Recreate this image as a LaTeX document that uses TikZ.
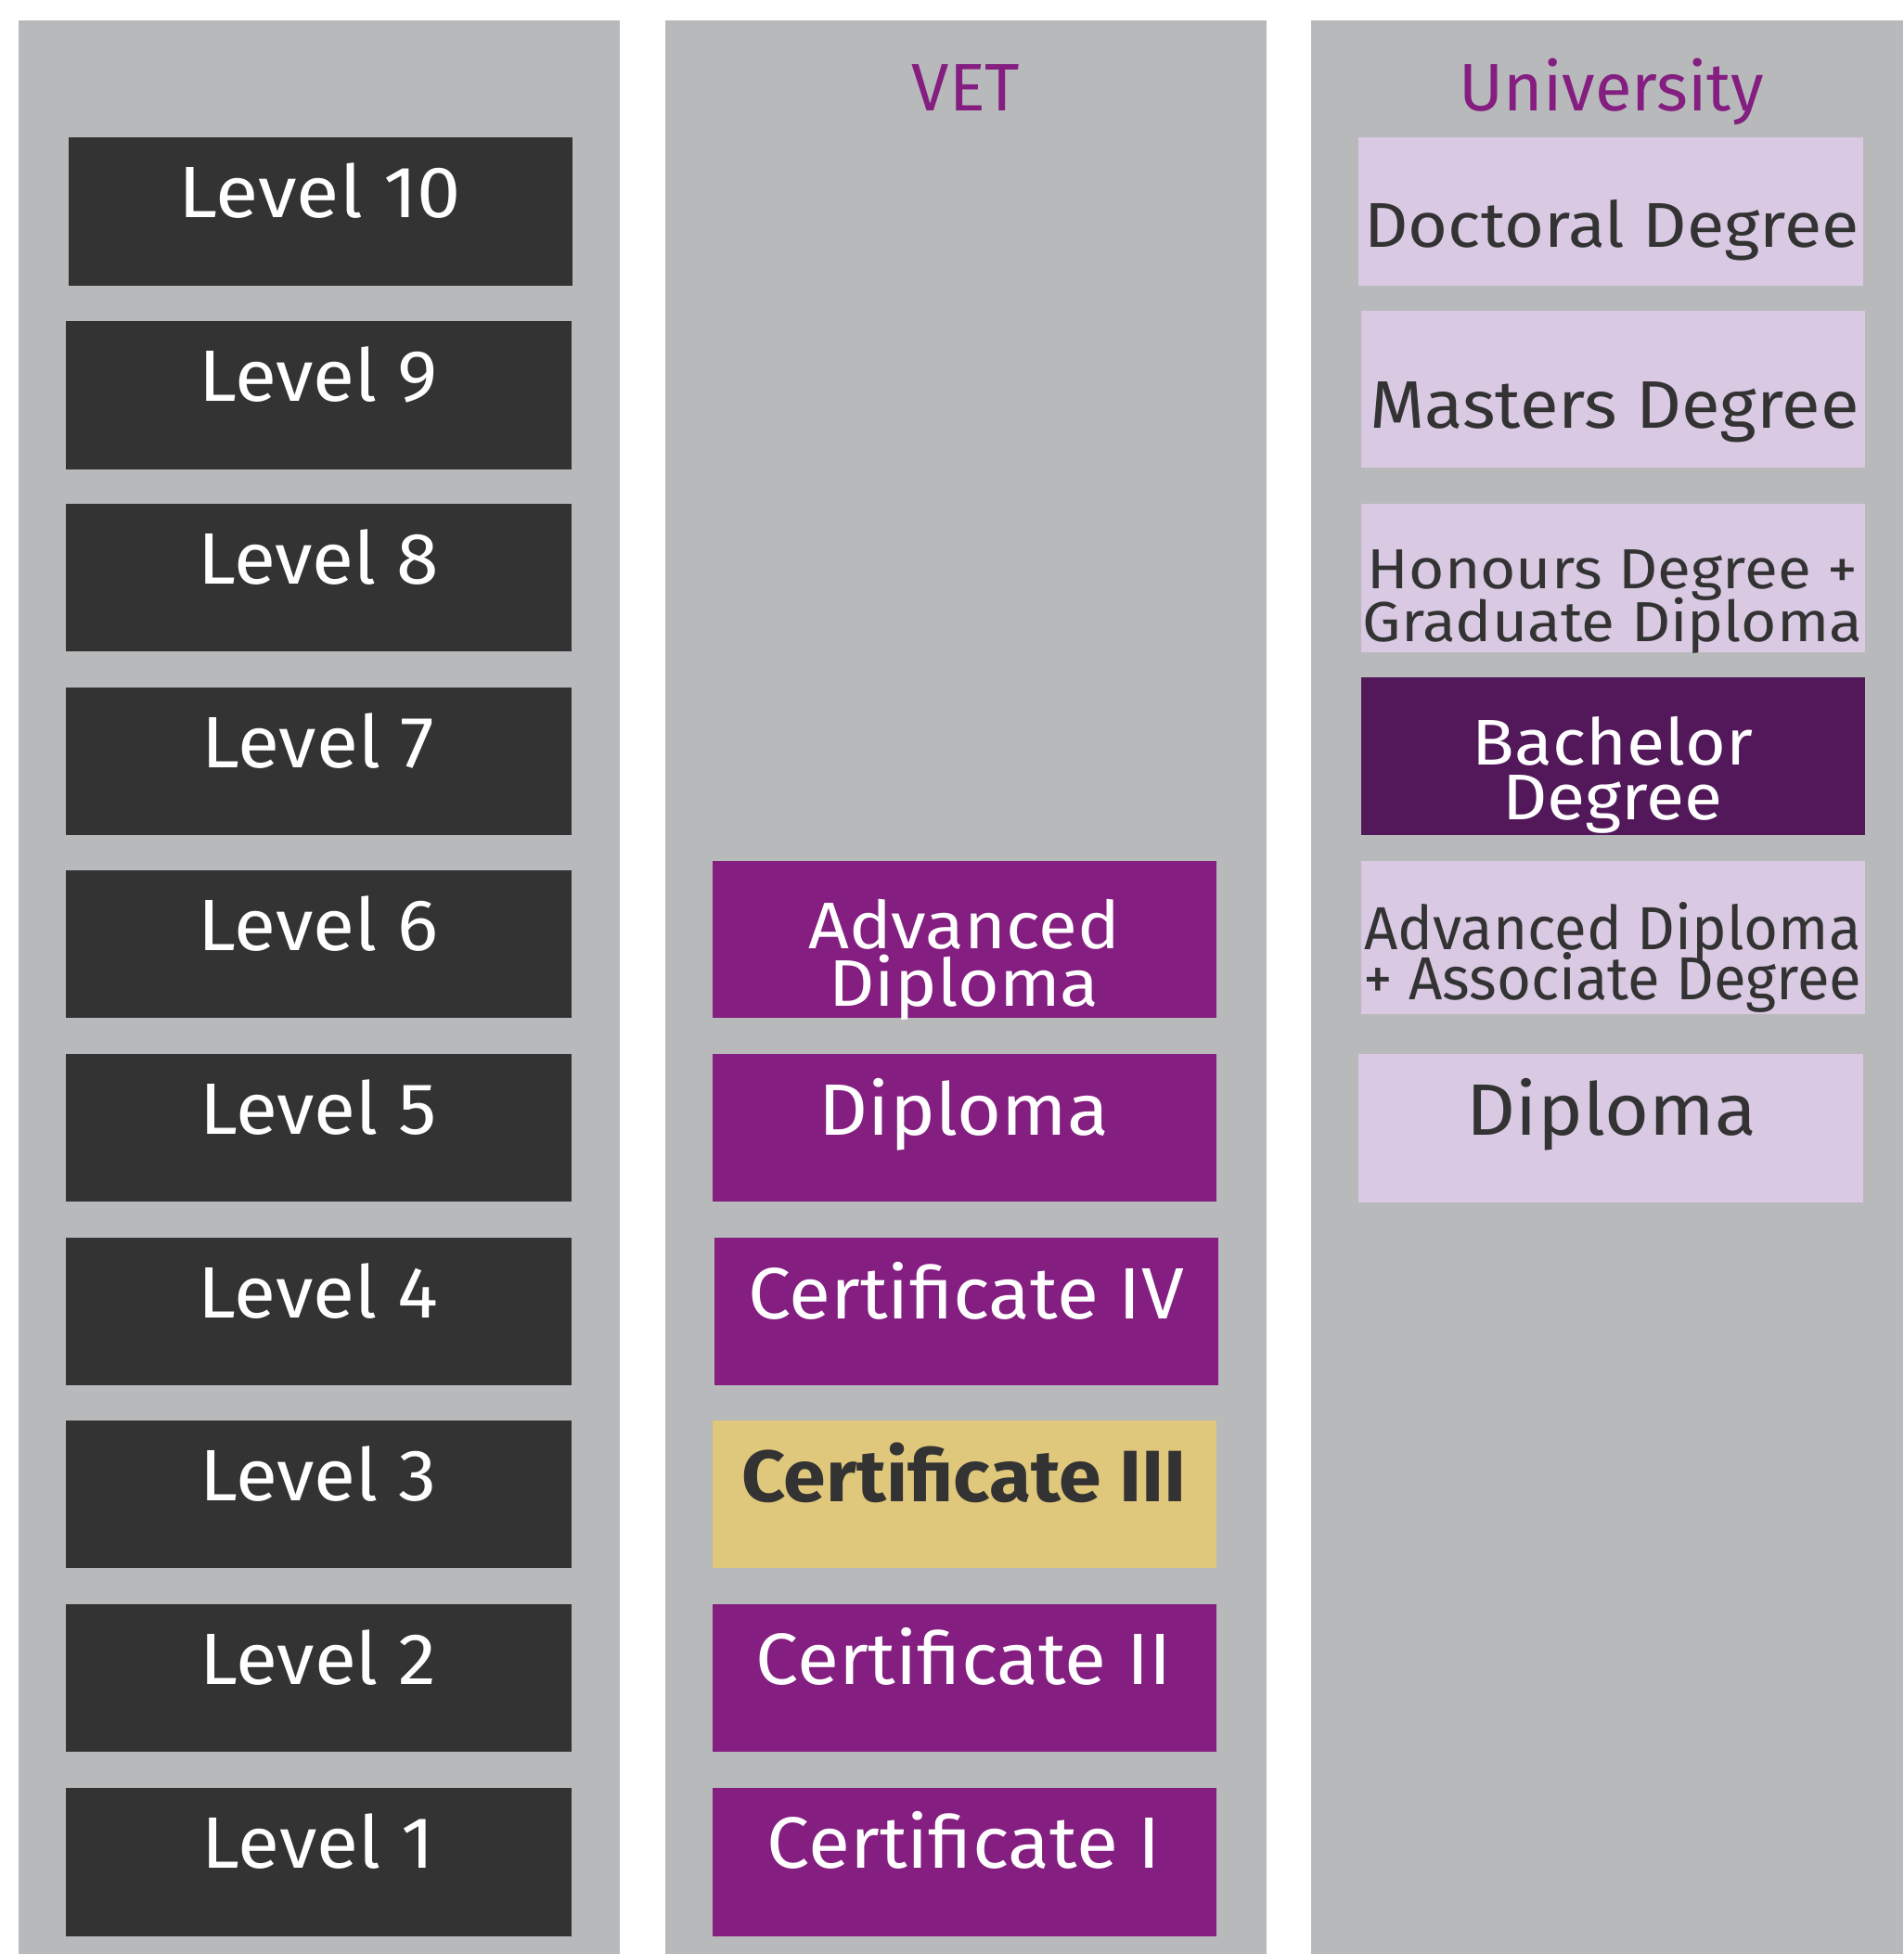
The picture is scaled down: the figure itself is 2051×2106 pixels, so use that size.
\documentclass[tikz,border=0pt]{standalone}
\usepackage{fontspec}
\setmainfont[FakeStretch=1.05]{Fira Sans}
\newfontfamily\widerfont[FakeStretch=1.08]{Fira Sans}
\newfontfamily\plainfont{Fira Sans}
\newfontfamily\narrowfont[FakeStretch=0.97]{Fira Sans}

\definecolor{colgray}{HTML}{B8B9BB}
\definecolor{lvldark}{HTML}{333333}
\definecolor{vetpurple}{HTML}{841E80}
\definecolor{bachpurple}{HTML}{52185A}
\definecolor{unilav}{HTML}{D9C9E3}
\definecolor{certgold}{HTML}{DFC77B}
\definecolor{inkdark}{HTML}{333333}

% a filled block from its corner coordinates: name, style, x1, y1, x2, y2
\newcommand\blk[6]{%
  \node[#2, minimum width={(#5-#3)*0.01cm}, minimum height={(#6-#4)*0.01cm}]
    (#1) at ({(#3+#5)/2},{(#4+#6)/2}) {};}
% a text placed by the baseline of its last line: name, style, x, y, text
\newcommand\lbl[5]{\node[txt, #2] (#1) at (#3,#4) {#5};}
% font size with a fixed, tight line pitch
\newcommand\tightsize[2]{\fontsize{#1}{#2}\selectfont\lineskiplimit=-100pt\lineskip=0pt}

\begin{document}
\begin{tikzpicture}[x=0.01cm, y=-0.01cm,
  blockbase/.style={draw=none, inner sep=0pt, outer sep=0pt},
  column/.style={blockbase, fill=colgray},
  lvlbox/.style={blockbase, fill=lvldark},
  vetbox/.style={blockbase, fill=vetpurple},
  bachbox/.style={blockbase, fill=bachpurple},
  unibox/.style={blockbase, fill=unilav},
  goldbox/.style={blockbase, fill=certgold},
  txt/.style={inner sep=0pt, outer sep=0pt, anchor=base, align=center},
  big/.style={font=\fontsize{22.3}{22.3}\selectfont},
  white/.style={text=white},
  ink/.style={text=inkdark},
  title/.style={text=vetpurple, font=\plainfont\fontsize{20.6}{20.6}\selectfont},
]
\useasboundingbox[fill=white] (0,0) rectangle (2051,2106);

% three background columns
\blk{colLevel}{column}{20}{22}{668}{2106}
\blk{colVET}{column}{717}{22}{1365}{2106}
\blk{colUni}{column}{1413}{22}{2051}{2106}

% column headings
\lbl{tVET}{title}{1041}{120}{VET}
\lbl{tUni}{title}{1737}{120}{University}

% AQF levels
\blk{L10}{lvlbox}{74}{148}{617}{308}
\blk{L9}{lvlbox}{71}{346}{616}{506}
\blk{L8}{lvlbox}{71}{543}{616}{702}
\blk{L7}{lvlbox}{71}{741}{616}{900}
\blk{L6}{lvlbox}{71}{938}{616}{1097}
\blk{L5}{lvlbox}{71}{1136}{616}{1295}
\blk{L4}{lvlbox}{71}{1334}{616}{1493}
\blk{L3}{lvlbox}{71}{1531}{616}{1690}
\blk{L2}{lvlbox}{71}{1729}{616}{1888}
\blk{L1}{lvlbox}{71}{1927}{616}{2087}

\lbl{tL10}{white,font=\widerfont\fontsize{22.3}{22.3}\selectfont}{345}{235}{Level 10}
\lbl{tL9}{big,white}{343}{432}{Level 9}
\lbl{tL8}{big,white}{343}{629}{Level 8}
\lbl{tL7}{big,white}{343}{827}{Level 7}
\lbl{tL6}{big,white}{343}{1024}{Level 6}
\lbl{tL5}{big,white}{343}{1222}{Level 5}
\lbl{tL4}{big,white}{343}{1420}{Level 4}
\lbl{tL3}{big,white}{343}{1617}{Level 3}
\lbl{tL2}{big,white}{343}{1815}{Level 2}
\lbl{tL1}{big,white}{343}{2013}{Level 1}

% VET qualifications
\blk{vAdv}{vetbox}{768}{928}{1311}{1097}
\blk{vDip}{vetbox}{768}{1136}{1311}{1295}
\blk{vC4}{vetbox}{770}{1334}{1313}{1493}
\blk{vC3}{goldbox}{768}{1531}{1311}{1690}
\blk{vC2}{vetbox}{768}{1729}{1311}{1888}
\blk{vC1}{vetbox}{768}{1927}{1311}{2087}

\lbl{tvAdv}{white,font=\widerfont\tightsize{20.2}{17.4}}{1039}{1084}{Advanced\\Diploma}
\lbl{tvDip}{big,white}{1039}{1223}{Diploma}
\lbl{tvC4}{big,white}{1041}{1421}{Certificate IV}
\lbl{tvC3}{ink,font=\fontsize{22.3}{22.3}\selectfont\bfseries}{1039}{1618}{Certificate III}
\lbl{tvC2}{big,white}{1039}{1815}{Certificate II}
\lbl{tvC1}{big,white}{1039}{2013}{Certificate I}

% university qualifications
\blk{uDoc}{unibox}{1464}{148}{2008}{308}
\blk{uMas}{unibox}{1467}{335}{2010}{504}
\blk{uHon}{unibox}{1467}{543}{2010}{703}
\blk{uBach}{bachbox}{1467}{730}{2010}{900}
\blk{uAdv}{unibox}{1467}{928}{2010}{1093}
\blk{uDip}{unibox}{1464}{1136}{2008}{1296}

\lbl{tuDoc}{ink,font=\widerfont\fontsize{19.4}{19.4}\selectfont}{1737}{267}{Doctoral Degree}
\lbl{tuMas}{ink,font=\fontsize{20.6}{20.6}\selectfont}{1740}{461}{Masters Degree}
\lbl{tuHon}{ink,font=\widerfont\tightsize{17.3}{16.2}}{1738}{691}{Honours Degree +\\Graduate Diploma}
\lbl{tuBach}{white,font=\widerfont\tightsize{19.8}{16.5}}{1738}{883}{Bachelor\\Degree}
\lbl{tuAdv}{ink,font=\narrowfont\tightsize{18.6}{15.1}}{1738}{1077}{Advanced Diploma\\+ Associate Degree}
\lbl{tuDip}{big,ink}{1737}{1223}{Diploma}
\end{tikzpicture}
\end{document}
